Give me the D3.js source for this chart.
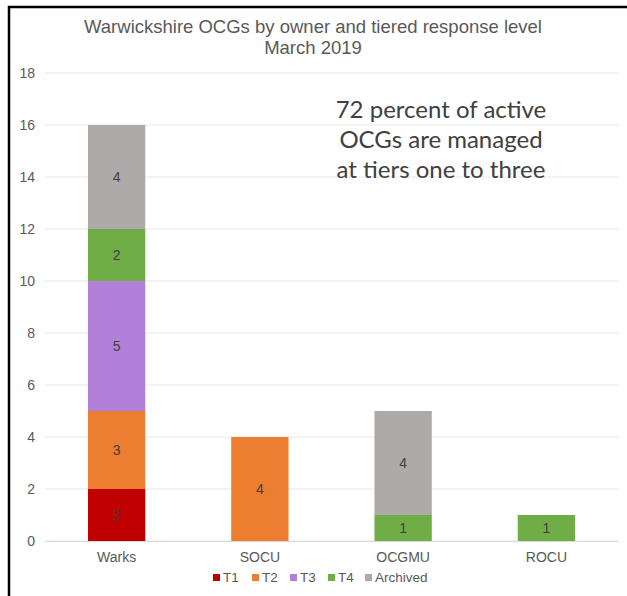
<!DOCTYPE html>
<html>
<head>
<meta charset="utf-8">
<script src="https://cdn.jsdelivr.net/npm/d3@7"></script>
<style>
  body { margin: 0; background: #fff; }
  text { font-family: "Liberation Sans", Arial, sans-serif; }
</style>
</head>
<body>
<div id="chart"></div>
<script>
var owners = ["Warks", "SOCU", "OCGMU", "ROCU"];
var tiers = ["T1", "T2", "T3", "T4", "Archived"];
var t1 = [2, 0, 0, 0];
var t2 = [3, 4, 0, 0];
var t3 = [5, 0, 0, 0];
var t4 = [2, 0, 1, 1];
var archived = [4, 0, 4, 0];
var yTicks = [0, 2, 4, 6, 8, 10, 12, 14, 16, 18];
var colors = ["#c00000", "#ed7d31", "#b180d9", "#70ad47", "#aeaaaa"];

var svgWidth = 627;
var svgHeight = 596;
var margin = { top: 73, right: 9, bottom: 55, left: 45 };
var width = svgWidth - margin.left - margin.right;
var height = svgHeight - margin.top - margin.bottom;

var rows = owners.map(function (o, i) {
    return { owner: o, T1: t1[i], T2: t2[i], T3: t3[i], T4: t4[i], Archived: archived[i] };
});

var svg = d3.select("#chart")
    .append("svg")
    .attr("width", svgWidth)
    .attr("height", svgHeight);

// frame (top and left edges only)
svg.append("path")
    .attr("d", "M9,600 V7 H627")
    .attr("fill", "none")
    .attr("stroke", "#000")
    .attr("stroke-width", 2.5);

var chart = svg.append("g")
    .attr("transform", `translate(${margin.left}, ${margin.top})`);

var xScale = d3.scaleBand()
    .domain(owners)
    .range([0, width])
    .paddingInner(0.6)
    .paddingOuter(0.3);

var yScale = d3.scaleLinear()
    .domain([0, 18])
    .range([height, 0]);

// gridlines
chart.append("g")
    .selectAll("line")
    .data(yTicks)
    .enter()
    .append("line")
    .attr("x1", 0)
    .attr("x2", width)
    .attr("y1", d => yScale(d))
    .attr("y2", d => yScale(d))
    .attr("stroke", "#e6e6e6")
    .attr("stroke-width", 1);

var leftAxis = d3.axisLeft(yScale).tickValues(yTicks).tickSize(0).tickPadding(10);
var yAxis = chart.append("g").call(leftAxis);
yAxis.select(".domain").remove();
yAxis.selectAll("text").attr("fill", "#595959").style("font-size", "14px");

var bottomAxis = d3.axisBottom(xScale).tickSize(0).tickPadding(11);
var xAxis = chart.append("g")
    .attr("transform", `translate(0, ${height})`)
    .call(bottomAxis);
xAxis.select(".domain").attr("stroke", "#d9d9d9");
xAxis.selectAll("text").attr("fill", "#595959").style("font-size", "14px");

var stacked = d3.stack().keys(tiers)(rows);

var layers = chart.selectAll(".layer")
    .data(stacked)
    .enter()
    .append("g")
    .attr("class", "layer")
    .attr("fill", (d, i) => colors[i]);

layers.selectAll("rect")
    .data(d => d.filter(s => s[1] - s[0] > 0))
    .enter()
    .append("rect")
    .attr("x", d => xScale(d.data.owner))
    .attr("width", xScale.bandwidth())
    .attr("y", d => yScale(d[1]))
    .attr("height", d => yScale(d[0]) - yScale(d[1]));

layers.selectAll("text")
    .data(d => d.filter(s => s[1] - s[0] > 0))
    .enter()
    .append("text")
    .attr("x", d => xScale(d.data.owner) + xScale.bandwidth() / 2)
    .attr("y", d => (yScale(d[0]) + yScale(d[1])) / 2 + 5)
    .attr("text-anchor", "middle")
    .attr("fill", "#404040")
    .style("font-size", "14px")
    .text(d => d[1] - d[0]);

// title
var title = svg.append("text")
    .attr("text-anchor", "middle")
    .attr("fill", "#595959")
    .style("font-size", "18.5px");
title.append("tspan").attr("x", 313).attr("y", 33).text("Warwickshire OCGs by owner and tiered response level");
title.append("tspan").attr("x", 313).attr("y", 54).text("March 2019");

// annotation
var note = svg.append("text")
    .attr("text-anchor", "middle")
    .attr("fill", "#404040")
    .style("font-family", "Lato, 'Open Sans', sans-serif")
    .style("font-size", "24px");
["72 percent of active", "OCGs are managed", "at tiers one to three"].forEach(function (line, i) {
    note.append("tspan").attr("x", 441).attr("y", 118 + i * 30).text(line);
});

// legend
var legendX = [213, 252, 290, 328, 365];
var legend = svg.append("g")
    .selectAll("g")
    .data(tiers)
    .enter()
    .append("g")
    .attr("transform", (d, i) => `translate(${legendX[i]}, 581)`);
legend.append("rect")
    .attr("y", -7)
    .attr("width", 7)
    .attr("height", 7)
    .attr("fill", (d, i) => colors[i]);
legend.append("text")
    .attr("x", 10)
    .attr("y", 1)
    .attr("fill", "#595959")
    .style("font-size", "13.5px")
    .text(d => d);
</script>
</body>
</html>
